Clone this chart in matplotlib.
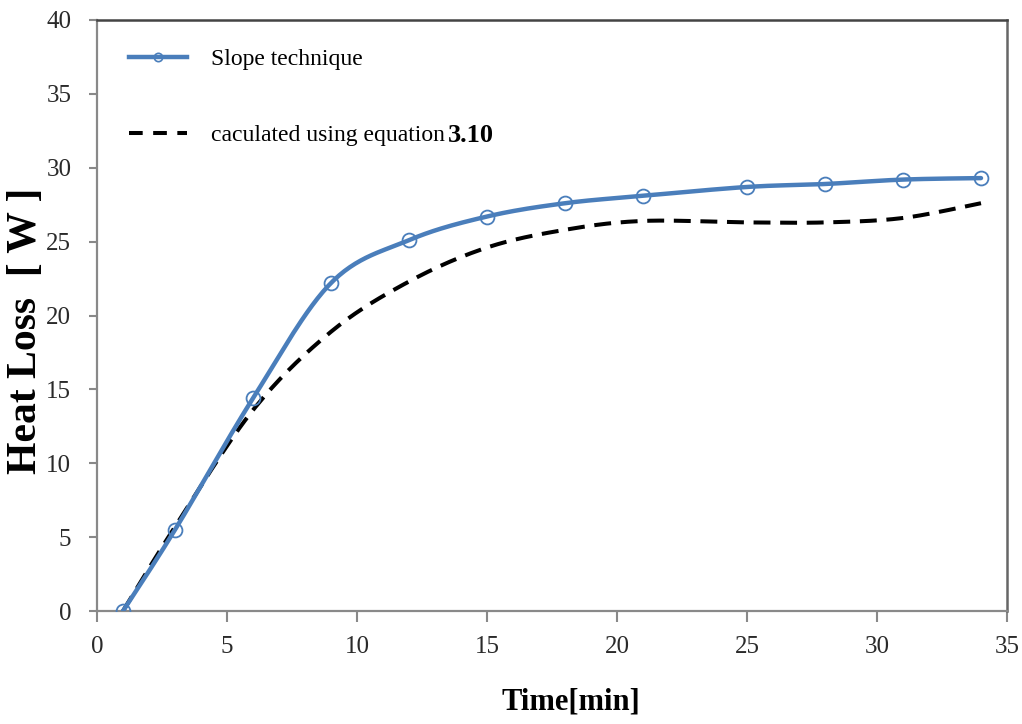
import numpy as np
import matplotlib
matplotlib.use('Agg')
import matplotlib.pyplot as plt

plt.rcParams['font.family'] = ['Liberation Serif', 'DejaVu Serif']

# measured heat loss vs time
time_min = [1, 3, 6, 9, 12, 15, 18, 21, 25, 28, 31, 34]
slope_loss = [0, 5.5, 14.4, 22.2, 25.1, 26.7, 27.6, 28.1, 28.7, 28.9, 29.2, 29.3]
calc_loss = [0, 5.7, 13.6, 18.9, 22.3, 24.6, 25.8, 26.4, 26.3, 26.3, 26.6, 27.6]

x_ticks = [0, 5, 10, 15, 20, 25, 30, 35]
y_ticks = [0, 5, 10, 15, 20, 25, 30, 35, 40]


def smooth(xs, ys, n=30):
    # spreadsheet-style smoothed line: bezier through the points
    p = np.column_stack([xs, ys]).astype(float)
    p = np.vstack([p[0], p, p[-1]])
    out = []
    t = np.linspace(0, 1, n)[:, None]
    for i in range(1, len(p) - 2):
        p0, p1, p2, p3 = p[i - 1], p[i], p[i + 1], p[i + 2]
        c1 = p1 + (p2 - p0) / 6
        c2 = p2 - (p3 - p1) / 6
        seg = ((1 - t) ** 3) * p1 + 3 * ((1 - t) ** 2) * t * c1 + 3 * (1 - t) * t ** 2 * c2 + t ** 3 * p2
        out.append(seg if i == 1 else seg[1:])
    out = np.vstack(out)
    return out[:, 0], out[:, 1]


fig = plt.figure(figsize=(10.22, 7.24), dpi=100)
ax = fig.add_axes([97 / 1022, 1 - 611 / 724, 910 / 1022, 591 / 724])

blue = '#4A7EBB'
sx, sy = smooth(time_min, slope_loss)
ax.plot(sx, sy, color=blue, lw=3.2, solid_capstyle='round', zorder=3)
ax.plot(time_min, slope_loss, 'o', ms=10, mfc='none', mec=blue, mew=1.3, zorder=4)
cx, cy = smooth(time_min, calc_loss)
ax.plot(cx, cy, color='black', lw=2.9, dashes=(4.2, 2.4), zorder=2)

# legend handles
h1, = ax.plot([], [], color=blue, lw=3.2, marker='o', ms=6, mfc='none', mec=blue, mew=1.2)
h2, = ax.plot([], [], color='black', lw=2.9, dashes=(3.4, 2.6))
leg = ax.legend([h1, h2], ['Slope technique', 'caculated using equation'],
                loc='upper left', bbox_to_anchor=(0.012, 0.988), frameon=False,
                fontsize=17, handlelength=2.45, handletextpad=1.0, labelspacing=2.33)

ax.set_xlim(0, 35)
ax.set_ylim(0, 40)
ax.set_xticks(x_ticks)
ax.set_yticks(y_ticks)
ax.tick_params(axis='x', direction='out', length=8, width=1.5, color='#898989',
               labelsize=18, labelcolor='#2a2a2a', pad=10)
ax.tick_params(axis='y', direction='out', length=6, width=1.5, color='#898989',
               labelsize=18, labelcolor='#2a2a2a', pad=12.5)
for side in ['left', 'bottom']:
    ax.spines[side].set_color('#898989')
    ax.spines[side].set_linewidth(1.6)
ax.spines['top'].set_color('#444444')
ax.spines['top'].set_linewidth(1.8)
ax.spines['right'].set_color('#666666')
ax.spines['right'].set_linewidth(1.8)

ax.set_xlabel('Time[min]', fontsize=22, fontweight='bold')
ax.xaxis.set_label_coords((571 - 97) / 910, -0.13)
ax.set_ylabel('Heat Loss  [ W ]', fontsize=30, fontweight='bold')
ax.yaxis.set_label_coords(-0.057, 0.474)

# equation number next to the second legend entry
fig.canvas.draw()
bb = leg.get_texts()[1].get_window_extent()
inv = ax.transAxes.inverted()
x0, y0 = inv.transform((bb.x1 + 3, (bb.y0 + bb.y1) / 2))
ax.text(x0, y0, '3.10', transform=ax.transAxes, fontsize=19, fontweight='bold',
        va='center', ha='left')

fig.savefig('out.png', dpi=100)
